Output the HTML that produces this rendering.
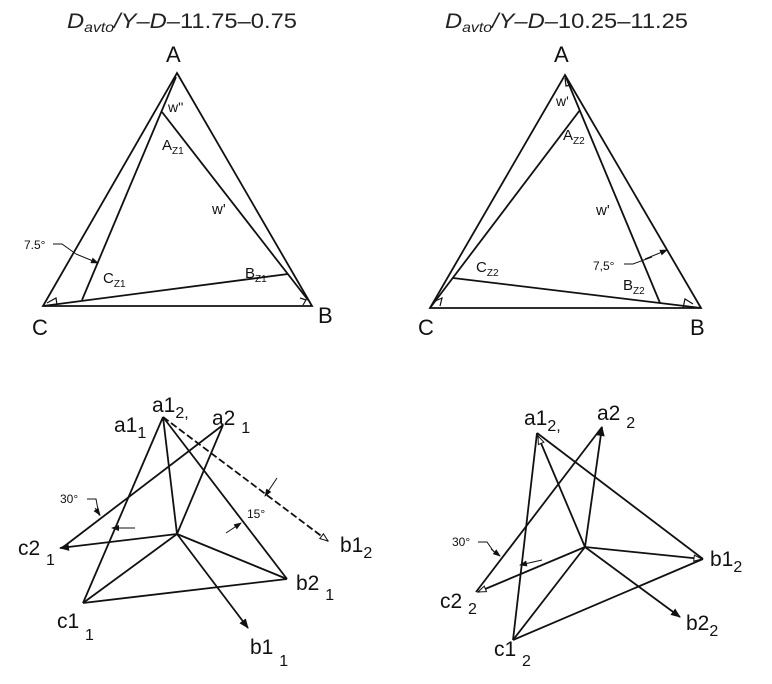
<!DOCTYPE html>
<html><head><meta charset="utf-8"><style>
html,body{margin:0;padding:0;background:#fff;}
svg{display:block;}
text{font-family:"Liberation Sans",sans-serif;fill:#111;}
.t{font-family:"Liberation Sans",sans-serif;font-size:21px;fill:#222;}
</style></head><body>
<svg width="772" height="684" viewBox="0 0 772 684" xmlns="http://www.w3.org/2000/svg">
<defs>
<marker id="fa" markerWidth="10" markerHeight="8" refX="9" refY="4" orient="auto" markerUnits="userSpaceOnUse"><path d="M0,0 L10,4 L0,8 z" fill="#111"/></marker>
<marker id="oa" markerWidth="10" markerHeight="8" refX="9" refY="4" orient="auto" markerUnits="userSpaceOnUse"><path d="M1,1 L9,4 L1,7 z" fill="#fff" stroke="#111" stroke-width="1"/></marker>
<marker id="sa" markerWidth="8" markerHeight="6" refX="7" refY="3" orient="auto" markerUnits="userSpaceOnUse"><path d="M0,0 L8,3 L0,6 z" fill="#111"/></marker>
</defs>

<!-- titles -->
<text class="t" x="67" y="28" textLength="230" lengthAdjust="spacingAndGlyphs"><tspan font-style="italic">D</tspan><tspan font-style="italic" font-size="14" dy="4">avto</tspan><tspan font-style="italic" dy="-4">/Y–D–</tspan>11.75–0.75</text>
<text class="t" x="445" y="28" textLength="243" lengthAdjust="spacingAndGlyphs"><tspan font-style="italic">D</tspan><tspan font-style="italic" font-size="14" dy="4">avto</tspan><tspan font-style="italic" dy="-4">/Y–D–</tspan>10.25–11.25</text>

<g stroke="#111" stroke-width="1.8" fill="none">
<!-- top-left -->
<polygon points="177,73 312,306 43,306"/>
<line x1="176" y1="77" x2="82" y2="300"/>
<line x1="162" y1="112" x2="308" y2="300"/>
<line x1="43" y1="306" x2="288" y2="274"/>
<path d="M47,303 L56,298 L57,305" stroke-width="1.2"/>
<path d="M300,298 L306,300 L303,305" stroke-width="1.2"/>
<path d="M53,244 L62,244 L76,254" stroke-width="1"/>
<line x1="76" y1="254" x2="98" y2="263" stroke-width="1" marker-end="url(#sa)"/>

<!-- top-right -->
<polygon points="565,75 701,308 430,308"/>
<line x1="430" y1="308" x2="580" y2="110"/>
<line x1="565" y1="75" x2="660" y2="303"/>
<line x1="453" y1="278" x2="701" y2="308"/>
<path d="M433,302 L442,298 L440,306" stroke-width="1.2"/>
<path d="M683,308 L685,299 L693,304" stroke-width="1.2"/>
<path d="M565,78 L566,86 L571,85" stroke-width="1.2"/>
<path d="M624,264 L633,264 L652,257" stroke-width="1"/>
<line x1="645" y1="259" x2="667" y2="250" stroke-width="1" marker-end="url(#sa)"/>

<!-- bottom-left -->
<line x1="163" y1="417" x2="83" y2="603"/>
<line x1="163" y1="417" x2="177" y2="534"/>
<line x1="163" y1="417" x2="287" y2="579"/>
<line x1="83" y1="603" x2="287" y2="579"/>
<line x1="83" y1="603" x2="177" y2="534"/>
<line x1="177" y1="534" x2="287" y2="579"/>
<line x1="223" y1="425" x2="177" y2="534"/>
<line x1="223" y1="425" x2="62" y2="548"/>
<line x1="177" y1="534" x2="248" y2="628" marker-end="url(#fa)"/>
<line x1="177" y1="534" x2="60" y2="548" marker-end="url(#fa)"/>
<line x1="163" y1="417" x2="328" y2="541" stroke-dasharray="7,3" marker-end="url(#oa)"/>
<path d="M87,499 L96,499 L99,515 L100,515" stroke-width="1"/>
<line x1="95" y1="508" x2="100" y2="515" stroke-width="1" marker-end="url(#sa)"/>
<line x1="135" y1="528" x2="112" y2="528" stroke-width="1" marker-end="url(#sa)"/>
<line x1="226" y1="533" x2="241" y2="523" stroke-width="1" marker-end="url(#sa)"/>
<line x1="277" y1="478" x2="265" y2="496" stroke-width="1" marker-end="url(#sa)"/>

<!-- bottom-right -->
<line x1="537" y1="433" x2="513" y2="640"/>
<line x1="537" y1="433" x2="703" y2="559"/>
<line x1="513" y1="640" x2="703" y2="559"/>
<line x1="513" y1="640" x2="585" y2="547"/>
<line x1="585" y1="547" x2="538" y2="436" marker-end="url(#oa)"/>
<line x1="585" y1="547" x2="602" y2="427" marker-end="url(#fa)"/>
<line x1="585" y1="547" x2="702" y2="559" marker-end="url(#oa)"/>
<line x1="585" y1="547" x2="478" y2="592" marker-end="url(#oa)"/>
<line x1="585" y1="547" x2="680" y2="617" marker-end="url(#fa)"/>
<line x1="602" y1="427" x2="476" y2="592"/>
<path d="M478,542 L487,542 L494,552" stroke-width="1"/>
<line x1="491" y1="549" x2="500" y2="556" stroke-width="1" marker-end="url(#sa)"/>
<line x1="542" y1="560" x2="520" y2="565" stroke-width="1" marker-end="url(#sa)"/>
</g>

<!-- top-left labels -->
<text x="166" y="62" font-size="22">A</text>
<text x="318" y="323" font-size="22">B</text>
<text x="32" y="335" font-size="22">C</text>
<text x="168" y="112" font-size="14">w''</text>
<text x="162" y="150" font-size="15">A<tspan font-size="10" dy="4">Z1</tspan></text>
<text x="212" y="214" font-size="15">w'</text>
<text x="245" y="278" font-size="15">B<tspan font-size="10" dy="4">Z1</tspan></text>
<text x="103" y="283" font-size="15">C<tspan font-size="10" dy="4">Z1</tspan></text>
<text x="24" y="249" font-size="12">7.5°</text>

<!-- top-right labels -->
<text x="554" y="62" font-size="22">A</text>
<text x="690" y="335" font-size="22">B</text>
<text x="418" y="335" font-size="22">C</text>
<text x="556" y="106" font-size="14">w'</text>
<text x="563" y="140" font-size="15">A<tspan font-size="10" dy="4">Z2</tspan></text>
<text x="596" y="215" font-size="15">w'</text>
<text x="476" y="272" font-size="15">C<tspan font-size="10" dy="4">Z2</tspan></text>
<text x="623" y="290" font-size="15">B<tspan font-size="10" dy="4">Z2</tspan></text>
<text x="593" y="270" font-size="12">7,5°</text>

<!-- bottom-left labels -->
<text x="152" y="412" font-size="21">a1<tspan font-size="16" dy="6">2,</tspan></text>
<text x="114" y="432" font-size="21">a1<tspan font-size="16" dy="6">1</tspan></text>
<text x="212" y="425" font-size="21">a2 <tspan font-size="16" dy="8">1</tspan></text>
<text x="18" y="555" font-size="21">c2 <tspan font-size="16" dy="10">1</tspan></text>
<text x="296" y="590" font-size="21">b2 <tspan font-size="16" dy="10">1</tspan></text>
<text x="57" y="628" font-size="21">c1 <tspan font-size="16" dy="12">1</tspan></text>
<text x="250" y="654" font-size="21">b1 <tspan font-size="16" dy="12">1</tspan></text>
<text x="340" y="552" font-size="21">b1<tspan font-size="16" dy="6">2</tspan></text>
<text x="60" y="503" font-size="12">30°</text>
<text x="247" y="518" font-size="12">15°</text>

<!-- bottom-right labels -->
<text x="524" y="425" font-size="21">a1<tspan font-size="16" dy="6">2,</tspan></text>
<text x="597" y="420" font-size="21">a2 <tspan font-size="16" dy="8">2</tspan></text>
<text x="710" y="566" font-size="21">b1<tspan font-size="16" dy="6">2</tspan></text>
<text x="440" y="608" font-size="21">c2 <tspan font-size="16" dy="6">2</tspan></text>
<text x="686" y="630" font-size="21">b2<tspan font-size="16" dy="6">2</tspan></text>
<text x="494" y="656" font-size="21">c1 <tspan font-size="16" dy="10">2</tspan></text>
<text x="452" y="546" font-size="12">30°</text>
</svg>
</body></html>
